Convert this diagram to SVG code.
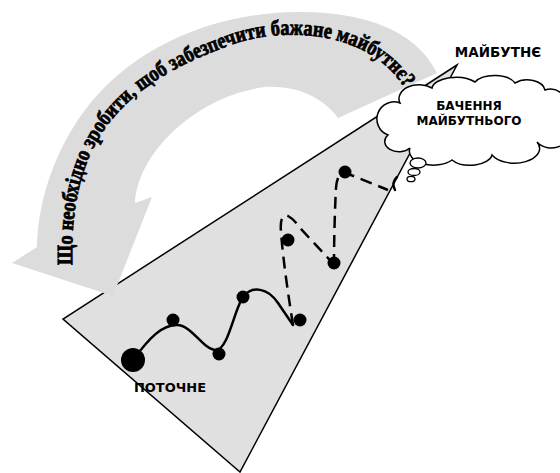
<svg xmlns="http://www.w3.org/2000/svg" width="560" height="473" viewBox="0 0 560 473">
<style>
.lbl{font-family:"DejaVu Sans",Verdana,sans-serif;font-weight:bold;fill:#000;text-anchor:middle}
.arc{font-family:"Liberation Serif","Times New Roman",serif;font-weight:bold;font-size:22px;fill:#000;stroke:#000;stroke-width:0.8}
.dot{fill:#000}
.solid{fill:none;stroke:#000;stroke-width:2.5;stroke-linecap:round}
.dash{fill:none;stroke:#000;stroke-width:2.5;stroke-dasharray:12 7}
</style>
<defs>
<path id="tp" d="M 73,280 C 65,150 112,87 231,45 C 280,27 370,27 407,92"/>
</defs>
<rect width="560" height="473" fill="#fff"/>
<g id="triangle">
<polygon points="457,65 63,319 240,472" fill="#e0e0e0" stroke="#000" stroke-width="1.5"/>
</g>
<g id="arrow">
<path d="M 437,73 C 415,28 360,12 300,12 C 210,12 130,50 85,110 C 55,150 38,200 37,247 L 12,263 L 113,296 L 152,197 L 135,203 C 138,150 200,95 265,87 C 300,85 325,100 338,118 Z" fill="#dcdcdc"/>
<text class="arc"><textPath href="#tp" startOffset="15" textLength="489" lengthAdjust="spacingAndGlyphs">Що необхідно зробити, щоб забезпечити бажане майбутнє?</textPath></text>
</g>
<g id="connectors">
<path class="solid" d="M 133,360 C 150,337 162,325 177,325 C 192,325 203,350 216,350 C 228,350 234,310 243,297 C 252,285 268,288 278,303 L 293,325"/>
<path class="dash" d="M 293,325 C 289,300 283,260 281,232 C 280,220 282,214 288,216 C 292,218 296,222 300,228 L 328,258 C 330,261 332,263 334,263"/>
<path class="dash" stroke-dashoffset="4" d="M 334,262 C 334,240 335,205 336,188 C 337,176 340,173 346,173 L 388,190"/>
<path class="solid" d="M 397,177 Q 391,183 395,190"/>
</g>
<g id="dots">
<circle class="dot" cx="133" cy="360" r="12"/>
<circle class="dot" cx="173" cy="320" r="6.5"/>
<circle class="dot" cx="219" cy="354" r="6.5"/>
<circle class="dot" cx="243" cy="297" r="6.5"/>
<circle class="dot" cx="300" cy="320" r="6.5"/>
<circle class="dot" cx="288" cy="240" r="6.5"/>
<circle class="dot" cx="334" cy="263" r="6.5"/>
<circle class="dot" cx="345" cy="172" r="6.5"/>
</g>
<g id="cloud">
<path d="M 400,103 A 20,14 0 0 1 432,88 A 24,12 0 0 1 475,82 A 22,12 0 0 1 515,83 A 18,12 0 0 1 545,90 A 16,14 0 0 1 566,106 L 566,128 A 16,12 0 0 1 537,142 A 24,14 0 0 1 492,155 A 22,12 0 0 1 452,160 A 24,14 0 0 1 410,148 A 14,10 0 0 1 388,135 A 12,12 0 0 1 400,103 Z" fill="#fff" stroke="#000" stroke-width="1.5"/>
<ellipse cx="418" cy="163" rx="8" ry="5" fill="#fff" stroke="#000" stroke-width="1.3"/>
<ellipse cx="414" cy="172" rx="6" ry="3.5" fill="#fff" stroke="#000" stroke-width="1.3"/>
<ellipse cx="411" cy="179" rx="4" ry="2.7" fill="#fff" stroke="#000" stroke-width="1.3"/>
<text class="lbl" x="469" y="110" font-size="12">БАЧЕННЯ</text>
<text class="lbl" x="469" y="125" font-size="12">МАЙБУТНЬОГО</text>
</g>
<g id="future">
<text class="lbl" x="498" y="57" font-size="13.5">МАЙБУТНЄ</text>
</g>
<g id="current">
<text class="lbl" x="170" y="392" font-size="13">ПОТОЧНЕ</text>
</g>
</svg>
